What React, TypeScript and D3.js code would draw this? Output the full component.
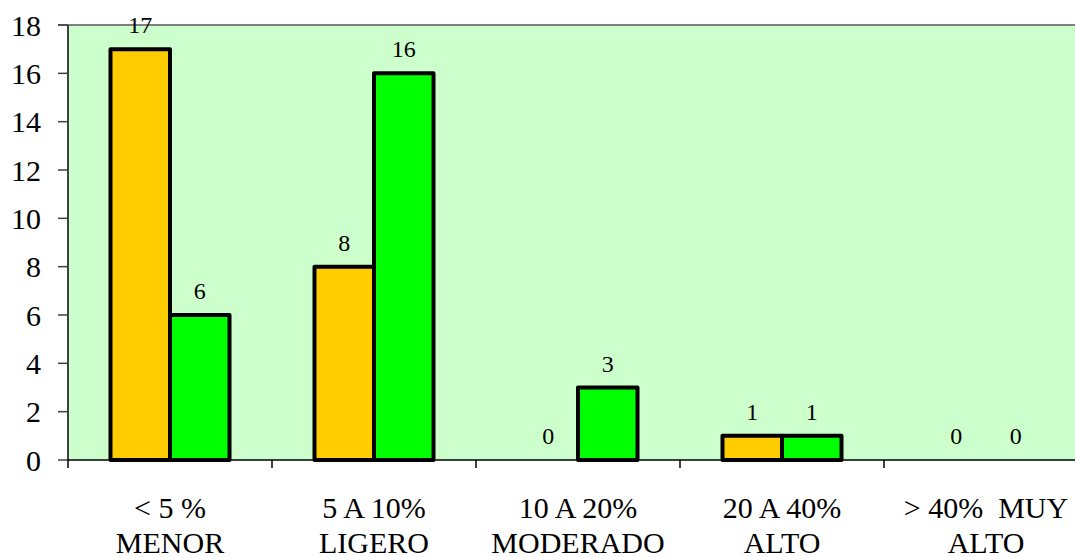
import React from "react";
import * as d3 from "d3";

const categories = ["< 5 %|MENOR", "5 A 10%|LIGERO", "10 A 20%|MODERADO", "20 A 40%|ALTO", "> 40%  MUY|ALTO"];
const seriesNames = ["A", "B"];
const seriesA = [17, 8, 0, 1, 0];
const seriesB = [6, 16, 3, 1, 0];
const yTicks = [0, 2, 4, 6, 8, 10, 12, 14, 16, 18];
const colors = ["#FFCC00", "#00FF00"];

const W = 1075;
const H = 557;
const left = 68;
const right = 1088;
const top = 25;
const bottom = 460;
const font = "'Liberation Serif', 'Times New Roman', serif";

export default function App() {
  const x0 = d3.scaleBand<string>().domain(categories).range([left, right]).paddingInner(0).paddingOuter(0);
  const x1 = d3.scaleBand<string>().domain(seriesNames).range([0, x0.bandwidth()]).paddingInner(0).paddingOuter(0.714);
  const y = d3.scaleLinear().domain([0, 18]).range([bottom, top]);
  const series = [seriesA, seriesB];

  return (
    <svg width={W} height={H} style={{ position: "absolute", left: 0, top: 0, display: "block" }}>
      <rect x={0} y={0} width={W} height={H} fill="#ffffff" />
      <rect x={left} y={top} width={right - left} height={bottom - top} fill="#CCFFCC" />
      <line x1={58} x2={W} y1={top} y2={top} stroke="#808080" strokeWidth={2} />
      {yTicks.map((t) => (
        <g key={t}>
          <line x1={58} x2={left} y1={y(t)} y2={y(t)} stroke="#404040" strokeWidth={1.5} />
          <text x={41} y={y(t)} dy="0.35em" textAnchor="end" fontFamily={font} fontSize={30} fill="#000">
            {t}
          </text>
        </g>
      ))}
      {categories.map((c, i) =>
        series.map((s, j) => {
          const v = s[i];
          const bx = (x0(c) as number) + (x1(seriesNames[j]) as number);
          const bw = x1.bandwidth();
          return (
            <g key={c + j}>
              {v > 0 && (
                <rect x={bx} y={y(v)} width={bw} height={bottom - y(v)} fill={colors[j]} stroke="#000" strokeWidth={4} strokeLinejoin="round" />
              )}
              <text x={bx + bw / 2} y={y(v) - 16} textAnchor="middle" fontFamily={font} fontSize={24} fill="#000">
                {v}
              </text>
            </g>
          );
        })
      )}
      <line x1={left} x2={left} y1={top} y2={bottom} stroke="#404040" strokeWidth={2} />
      <line x1={left} x2={W} y1={bottom} y2={bottom} stroke="#000" strokeWidth={1.5} />
      {categories.map((c, i) => (
        <line key={"t" + i} x1={x0(c) as number} x2={x0(c) as number} y1={bottom} y2={bottom + 8} stroke="#000" strokeWidth={1.5} />
      ))}
      <line x1={right} x2={right} y1={bottom} y2={bottom + 8} stroke="#000" strokeWidth={1.5} />
      {categories.map((c) => {
        const [l1, l2] = c.split("|");
        const cx = (x0(c) as number) + x0.bandwidth() / 2;
        return (
          <text key={"c" + c} x={cx} textAnchor="middle" fontFamily={font} fontSize={30} fill="#000" style={{ whiteSpace: "pre" }}>
            <tspan x={cx} y={518}>{l1}</tspan>
            <tspan x={cx} y={553}>{l2}</tspan>
          </text>
        );
      })}
    </svg>
  );
}
